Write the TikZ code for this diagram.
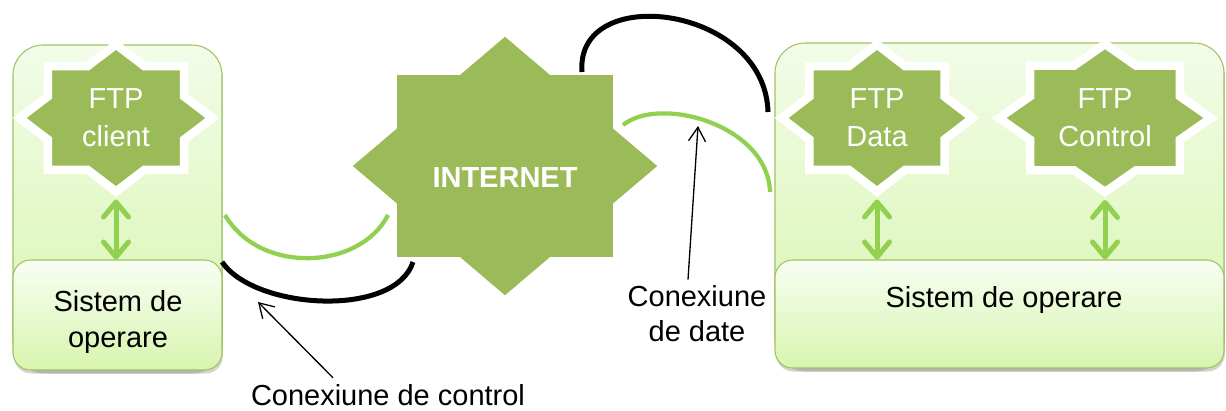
\documentclass[tikz,border=0pt]{standalone}
\usepackage{fontspec}
\setmainfont{Liberation Sans}
\usetikzlibrary{arrows.meta,shadows,fit}

\definecolor{stargreen}{HTML}{9BBB59}
\definecolor{linkgreen}{HTML}{92D050}
\definecolor{boxtop}{HTML}{F2FCE8}
\definecolor{boxbottom}{HTML}{D7F5AE}
\definecolor{boxline}{HTML}{A0C262}

\tikzset{
  hostbox/.style={draw=boxline, line width=0.6pt, top color=boxtop, bottom color=boxbottom,
    rounded corners=0.6cm, inner sep=0pt,
    drop shadow={opacity=0.35, shadow xshift=0.5pt, shadow yshift=-2pt}},
  osbox/.style={hostbox, rounded corners=0.35cm, top color=boxtop!50!white},
  starshape/.style={fill=stargreen, draw=white, line width=0.17cm, line join=miter,
    drop shadow={opacity=0.3, shadow xshift=1pt, shadow yshift=-1.5pt}},
  startext/.style={text=white, align=center, font=\fontsize{16.5}{21.5}\selectfont},
  plaintext/.style={align=center, font=\fontsize{16.5}{20}\selectfont},
  osarrow/.style={draw=linkgreen, line width=0.1cm,
    {Straight Barb[round,length=0.3cm,width=0.5cm]}-{Straight Barb[round,length=0.3cm,width=0.5cm]}},
  datalink/.style={draw=linkgreen, line width=0.085cm},
  ctrllink/.style={draw=black, line width=0.1cm},
  pointer/.style={line width=0.75pt, -{Straight Barb[length=0.28cm,width=0.34cm]}}
}

% 8-point star: [text y offset]{name}{cx}{cy}{rx}{ry}{text}
\newcommand\octstar[7][0]{%
  \draw[starshape] plot[variable=\k, samples at={0,...,15}]
    ({#3+#5*(1-0.2346*mod(\k,2))*cos(\k*22.5)},{#4+#6*(1-0.2346*mod(\k,2))*sin(\k*22.5)}) -- cycle;
  \node[startext] (#2) at (#3,#4+#1) {#7};
  \coordinate (#2-s) at (#3,#4+#6+8);
}

\begin{document}
\begin{tikzpicture}[x=0.02cm, y=-0.02cm]
  \useasboundingbox (0,0) rectangle (1226,410);

  % hosts
  \node[hostbox, fit={(13,45) (222,370)}] (client) {};
  \node[osbox, fit={(13,260) (222,370)}] (clientos) {};
  \node[plaintext] (clientostext) at (118,322) {Sistem de\\operare};
  \node[hostbox, fit={(775,43) (1224,368)}] (server) {};
  \node[osbox, fit={(775,260) (1224,368)}] (serveros) {};
  \node[plaintext] (serverostext) at (1004,300) {Sistem de operare};

  % stars
  \octstar{ftpclient}{116}{118}{96.5}{73.5}{FTP\\client}
  \octstar[12]{internet}{505}{166}{159}{135}{\textbf{INTERNET}}
  \octstar{ftpdata}{877}{118}{95.5}{73.5}{FTP\\Data}
  \octstar{ftpcontrol}{1105}{118}{106}{74}{FTP\\Control}

  \draw[osarrow] (ftpclient-s) -- (clientos.north -| ftpclient-s);
  \draw[osarrow] (ftpdata-s) -- (serveros.north -| ftpdata-s);
  \draw[osarrow] (ftpcontrol-s) -- (serveros.north -| ftpcontrol-s);

  % connections
  \coordinate (ctl-a) at (222,262);
  \coordinate (ctl-b) at (413,262);
  \coordinate (ctl-c) at (582,72);
  \coordinate (ctl-d) at (768,112);
  \coordinate (dat-a) at (225,215);
  \coordinate (dat-b) at (388,215);
  \coordinate (dat-c) at (623,125);
  \coordinate (dat-d) at (770,192);
  \draw[datalink] (dat-a) .. controls (260,275) and (360,270) .. (dat-b);
  \draw[ctrllink] (ctl-a) .. controls (255,310) and (395,318) .. (ctl-b);
  \draw[ctrllink] (ctl-c) .. controls (575,-18) and (765,5) .. (ctl-d);
  \draw[datalink] (dat-c) .. controls (660,95) and (768,125) .. (dat-d);

  % labels
  \node[plaintext, anchor=base] (ctllabel) at (388,405) {Conexiune de control};
  \node[plaintext] (datlabel) at (697,314) {Conexiune\\de date};
  \coordinate (ctl-tip) at (258,302);
  \coordinate (dat-tip) at (698,126);
  \draw[pointer] ([xshift=-1.1cm]ctllabel.north) -- (ctl-tip);
  \draw[pointer] ([xshift=-0.18cm]datlabel.north) -- (dat-tip);
\end{tikzpicture}
\end{document}
